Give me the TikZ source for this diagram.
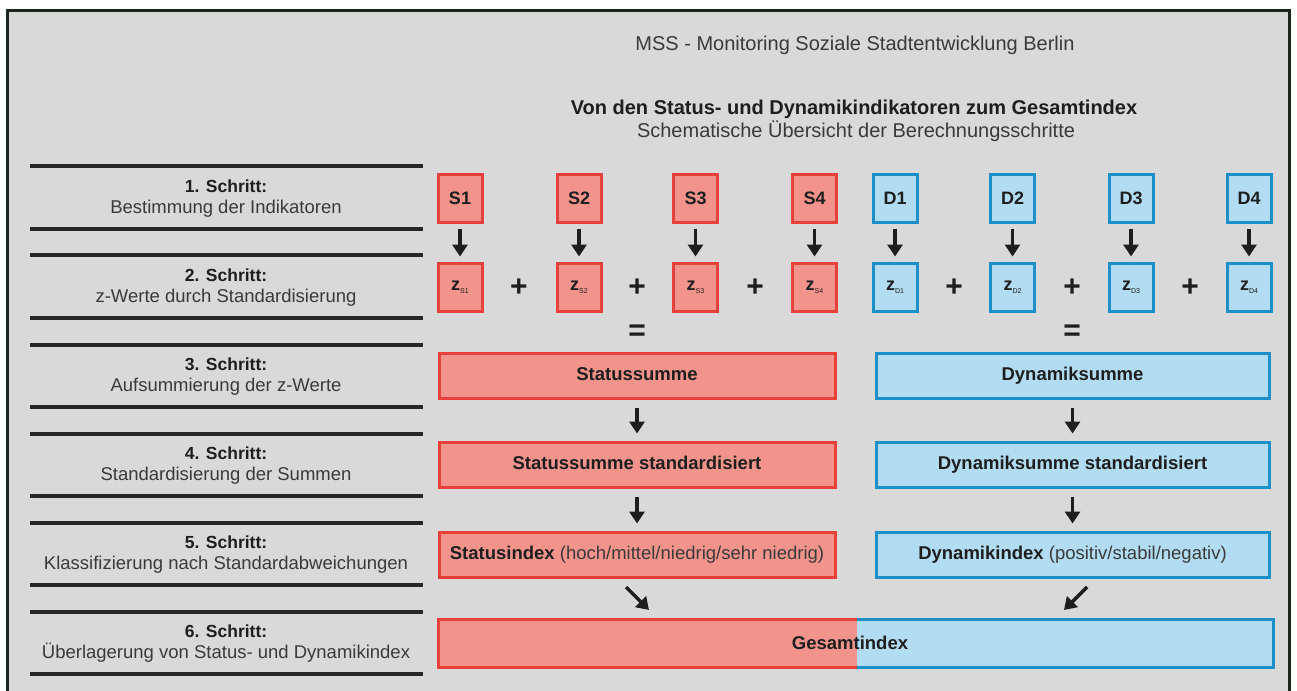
\documentclass[tikz,border=0pt]{standalone}
\usepackage{fontspec}
\setmainfont{Liberation Sans}
\usetikzlibrary{arrows.meta,calc}
\definecolor{bg}{HTML}{D9D9D9}
\definecolor{frame}{HTML}{1C261C}
\definecolor{redfill}{HTML}{F3948C}
\definecolor{redline}{HTML}{E8403A}
\definecolor{bluefill}{HTML}{B2DCF1}
\definecolor{blueline}{HTML}{1D8FC9}
\definecolor{txt}{HTML}{3A3A3A}
\definecolor{btxt}{HTML}{1E1E1E}
\tikzset{
  stepline/.style={line width=4pt,black!85},
  steptext/.style={align=center,text=txt,font=\fontsize{18.5}{21}\selectfont},
  rbox/.style={draw=redline,fill=redfill,line width=3pt,minimum width=44pt,minimum height=48pt,inner sep=0pt,font=\fontsize{18}{20}\selectfont\bfseries,text=btxt},
  bbox/.style={draw=blueline,fill=bluefill,line width=3pt,minimum width=44pt,minimum height=48pt,inner sep=0pt,font=\fontsize{18}{20}\selectfont\bfseries,text=btxt},
  rwide/.style={rbox,minimum width=396pt,minimum height=45pt,text height=13pt,text depth=4pt,font=\fontsize{18.5}{20}\selectfont\bfseries},
  bwide/.style={bbox,minimum width=393pt,minimum height=45pt,text height=13pt,text depth=4pt,font=\fontsize{18.5}{20}\selectfont\bfseries},
  arr/.style={line width=3.5pt,btxt,-{Triangle[width=15pt,length=12pt]}},
  op/.style={font=\fontsize{30}{30}\selectfont\bfseries,text=btxt},
}
\newcommand{\zlab}[1]{z\raisebox{-3pt}{\fontsize{7}{7}\selectfont\mdseries #1}}
\begin{document}
\begin{tikzpicture}[x=1pt,y=-1pt]
\useasboundingbox (0,0) rectangle (1297,690);
\fill[white] (0,0) rectangle (1297,690);
\draw[frame,line width=3pt,fill=bg] (7.5,10.5) rectangle (1289.5,700);

% titles
\node[text=txt,font=\fontsize{20}{22}\selectfont] (t1) at (855,45) {MSS - Monitoring Soziale Stadtentwicklung Berlin};
\node[text=btxt,font=\fontsize{20}{22}\selectfont\bfseries] (t2) at (854,109) {Von den Status- und Dynamikindikatoren zum Gesamtindex};
\node[text=txt,font=\fontsize{20}{22}\selectfont] (t3) at (856,131) {Schematische Übersicht der Berechnungsschritte};

% step lines
\foreach \y [count=\i] in {166,229,255,318,345,407,434,496,523,585,612,674}
  \draw[stepline] (30,\y) coordinate (la\i) -- (423,\y) coordinate (lb\i);

% step texts
\node[steptext] (st1) at (226,199) {{\fontsize{17.5}{21}\selectfont\bfseries\color{btxt}1. Schritt:}\\Bestimmung der Indikatoren};
\node[steptext] (st2) at (226,288) {{\fontsize{17.5}{21}\selectfont\bfseries\color{btxt}2. Schritt:}\\z-Werte durch Standardisierung};
\node[steptext] (st3) at (226,377) {{\fontsize{17.5}{21}\selectfont\bfseries\color{btxt}3. Schritt:}\\Aufsummierung der z-Werte};
\node[steptext] (st4) at (226,466) {{\fontsize{17.5}{21}\selectfont\bfseries\color{btxt}4. Schritt:}\\Standardisierung der Summen};
\node[steptext] (st5) at (226,555) {{\fontsize{17.5}{21}\selectfont\bfseries\color{btxt}5. Schritt:}\\Klassifizierung nach Standardabweichungen};
\node[steptext] (st6) at (226,644) {{\fontsize{17.5}{21}\selectfont\bfseries\color{btxt}6. Schritt:}\\Überlagerung von Status- und Dynamikindex};

% indicator boxes
\foreach \x/\n in {460/1,579/2,695.5/3,814.5/4}{
  \node[rbox] (S\n) at (\x,198) {S\n};
  \node[rbox] (zS\n) at (\x,287) {\zlab{S\n}};
  \draw[arr,shorten <=5pt,shorten >=5pt] (S\n) -- (zS\n);
}
\foreach \x/\n in {895/1,1012.5/2,1131/3,1249/4}{
  \node[bbox] (D\n) at (\x,198) {D\n};
  \node[bbox] (zD\n) at (\x,287) {\zlab{D\n}};
  \draw[arr,shorten <=5pt,shorten >=5pt] (D\n) -- (zD\n);
}
\node[op] (p1) at (519,288) {+};
\node[op] (p2) at (637,288) {+};
\node[op] (p3) at (755,288) {+};
\node[op] (p4) at (954,288) {+};
\node[op] (p5) at (1072,288) {+};
\node[op] (p6) at (1190,288) {+};
\node[op] (e1) at (637,333) {=};
\node[op] (e2) at (1072,333) {=};

% sums
\node[rwide] (ssum) at (637,375.5) {Statussumme};
\node[bwide] (dsum) at (1072.5,375.5) {Dynamiksumme};
\node[rwide] (sstd) at (637,464.5) {Statussumme standardisiert};
\node[bwide] (dstd) at (1072.5,464.5) {Dynamiksumme standardisiert};
\node[rwide] (sidx) at (637,554.5) {Statusindex {\mdseries\color{txt}(hoch/mittel/niedrig/sehr niedrig)}};
\node[bwide] (didx) at (1072.5,554.5) {Dynamikindex {\mdseries\color{txt}(positiv/stabil/negativ)}};

\draw[arr,shorten <=8pt,shorten >=7pt] (ssum) -- (sstd);
\draw[arr,shorten <=8pt,shorten >=7pt] (dsum) -- (dstd);
\draw[arr,shorten <=8pt,shorten >=7pt] (sstd) -- (sidx);
\draw[arr,shorten <=8pt,shorten >=7pt] (dstd) -- (didx);

% Gesamtindex
\fill[redfill] (438,619) rectangle (857,667);
\fill[bluefill] (857,619) rectangle (1273,667);
\draw[redline,line width=3pt] (857,619) -- (438,619) -- (438,667) -- (857,667);
\draw[blueline,line width=3pt] (857,619) -- (1273,619) -- (1273,667) -- (857,667);
\node[font=\fontsize{18.5}{20}\selectfont\bfseries,text=btxt] (ges) at (850,643) {Gesamtindex};

\coordinate (a1s) at (626,587);
\coordinate (a1e) at (649,610);
\coordinate (a2s) at (1087,587);
\coordinate (a2e) at (1064,610);
\draw[arr] (a1s) -- (a1e);
\draw[arr] (a2s) -- (a2e);
\end{tikzpicture}
\end{document}
